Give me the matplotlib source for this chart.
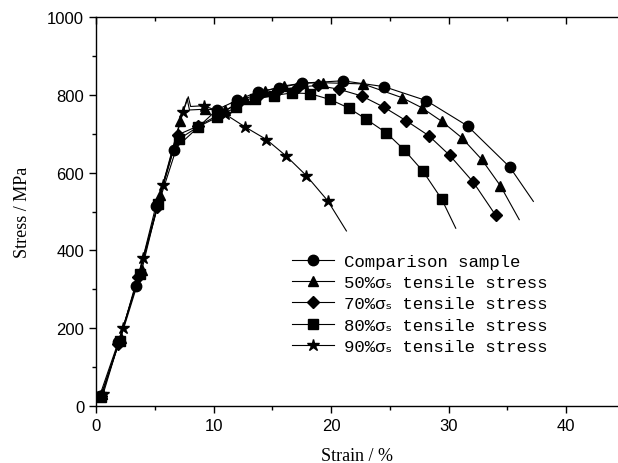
import matplotlib
matplotlib.use("Agg")
import matplotlib.pyplot as plt
from matplotlib.ticker import MultipleLocator

# ---- data (strain %, stress MPa) ----
# marked points
cmp_x = [0.3, 1.9, 3.4, 5.1, 6.6, 10.3, 12.0, 13.8, 15.6, 17.5, 21.0, 24.5, 28.1, 31.6, 35.2]
cmp_y = [25, 165, 308, 515, 658, 762, 786, 808, 818, 830, 836, 821, 785, 720, 614]
cmp_end = (37.2, 526)

s50_x = [0.5, 2.1, 3.9, 5.45, 7.15, 9.3, 11.0, 12.7, 14.4, 16.0, 17.6, 19.3, 22.7, 26.0, 27.7, 29.4, 31.1, 32.8, 34.4]
s50_y = [30, 175, 350, 543, 732, 763, 760, 790, 810, 823, 830, 831, 828, 793, 767, 732, 690, 634, 566]
s50_spike = (7.75, 790)
s50_end = (36.0, 479)

s70_x = [0.4, 1.9, 3.6, 5.2, 6.95, 8.7, 10.4, 12.1, 13.8, 15.5, 17.2, 18.9, 20.7, 22.6, 24.5, 26.4, 28.3, 30.1, 32.1, 34.0]
s70_y = [25, 160, 331, 511, 697, 720, 748, 778, 798, 812, 820, 824, 814, 797, 768, 733, 695, 644, 575, 490]

s80_x = [0.4, 2.0, 3.7, 5.3, 7.1, 8.7, 10.3, 11.9, 13.5, 15.1, 16.7, 18.2, 19.9, 21.5, 23.0, 24.7, 26.2, 27.8, 29.4]
s80_y = [22, 168, 340, 518, 687, 718, 742, 768, 788, 798, 805, 803, 788, 766, 737, 702, 659, 604, 532]
s80_end = (30.6, 457)

s90_x = [0.6, 2.3, 4.0, 5.7, 7.4, 9.2, 11.0, 12.7, 14.5, 16.2, 17.9, 19.7]
s90_y = [30, 200, 380, 568, 755, 772, 750, 717, 685, 642, 592, 528]
s90_spike = (7.85, 795)
s90_end = (21.3, 450)

labels = ["Comparison sample",
          "50%σₛ tensile stress",
          "70%σₛ tensile stress",
          "80%σₛ tensile stress",
          "90%σₛ tensile stress"]
markers = ["o", "^", "D", "s", "*"]

fig = plt.figure(figsize=(6.18, 4.64), dpi=100)
ax = fig.add_axes([96/618, 57/464, 1 - 96/618, (407-18)/464])

def draw(xs, ys, mk, label, spike=None, end=None, ms=6.5):
    lx, ly = list(xs), list(ys)
    if spike is not None:
        i = 5
        lx.insert(i, spike[0]); ly.insert(i, spike[1])
        lx.insert(i + 1, spike[0] + 0.2); ly.insert(i + 1, ys[5] - 2)
    if end is not None:
        lx.append(end[0]); ly.append(end[1])
    ax.plot(lx, ly, color="black", lw=0.8, zorder=2)
    ax.plot(xs, ys, linestyle="none", marker=mk, color="black", ms=ms, zorder=3)
    ax.plot([], [], color="black", lw=0.8, marker=mk, ms=ms, label=label)

draw(cmp_x, cmp_y, markers[0], labels[0], end=cmp_end, ms=7.5)
draw(s50_x, s50_y, markers[1], labels[1], spike=s50_spike, end=s50_end, ms=7.5)
draw(s70_x, s70_y, markers[2], labels[2], ms=6.5)
draw(s80_x, s80_y, markers[3], labels[3], end=s80_end, ms=6.5)
draw(s90_x, s90_y, markers[4], labels[4], spike=s90_spike, end=s90_end, ms=9)

ax.set_xlim(0, 44.4)
ax.set_ylim(0, 1000)
ax.xaxis.set_major_locator(MultipleLocator(10))
ax.xaxis.set_minor_locator(MultipleLocator(5))
ax.yaxis.set_major_locator(MultipleLocator(200))
ax.yaxis.set_minor_locator(MultipleLocator(100))
ax.spines["right"].set_visible(False)
for s in ["left", "bottom", "top"]:
    ax.spines[s].set_linewidth(1.0)
ax.tick_params(which="both", direction="out", width=1.0)
ax.tick_params(which="major", length=5, labelsize=12)
ax.tick_params(which="minor", length=3)
ax.tick_params(which="both", top=True, labeltop=False)
for t in ax.xaxis.get_major_ticks() + ax.xaxis.get_minor_ticks():
    t.tick2line.set_marker(3)  # tick pointing down (inward) on top spine
for lab in ax.get_xticklabels() + ax.get_yticklabels():
    lab.set_family("Liberation Sans")

ax.set_xlabel("Strain / %", family="Liberation Serif", fontsize=13, labelpad=10)
ax.set_ylabel("Stress / MPa", family="Liberation Serif", fontsize=13, labelpad=12)

leg = ax.legend(loc="upper left", bbox_to_anchor=(0.376, 0.392), frameon=False,
                prop={"family": ["Liberation Mono", "DejaVu Sans"], "size": 12.5},
                handlelength=2.4, labelspacing=0.36, handletextpad=0.6,
                borderpad=0, borderaxespad=0)

fig.savefig("out.png", dpi=100)
